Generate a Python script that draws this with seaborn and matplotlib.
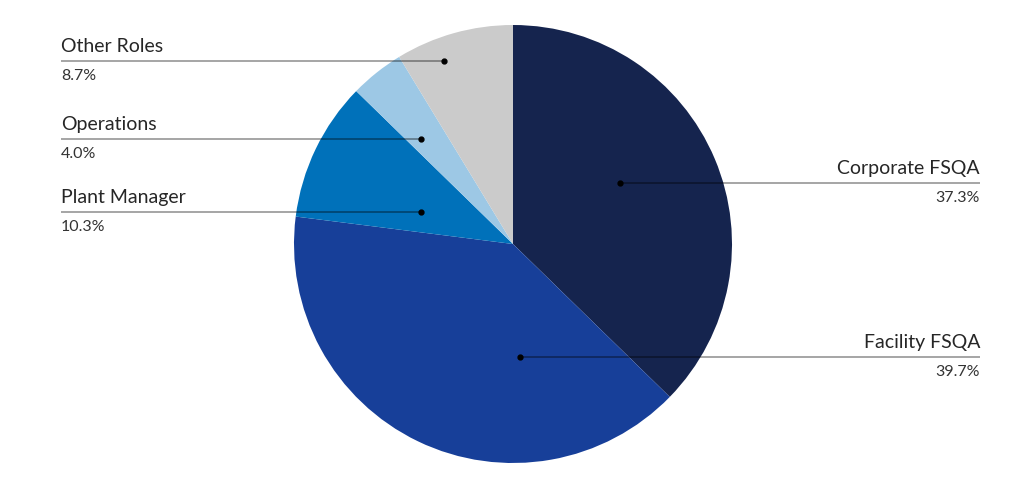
import matplotlib
matplotlib.use("Agg")
import matplotlib.pyplot as plt
import seaborn as sns

# data
roles = ["Corporate FSQA", "Facility FSQA", "Plant Manager", "Operations", "Other Roles"]
shares = [37.3, 39.7, 10.3, 4.0, 8.7]
colors = ["#15244e", "#173f99", "#0071ba", "#9dc8e5", "#cbcbcb"]

# label layout (image pixels): dot x, line y, side
dot_x = [620, 520, 421, 421, 444]
line_y = [183, 357, 212, 139, 61]
side = ["right", "right", "left", "left", "left"]

sns.set_style("white")
plt.rcParams['font.family'] = ['Lato', 'DejaVu Sans']

W, H = 1024, 490
fig = plt.figure(figsize=(W / 100, H / 100), dpi=100)
ax = fig.add_axes([0, 0, 1, 1])

ax.pie(shares, colors=colors, startangle=90, counterclock=False,
       center=(513, H - 244), radius=219, frame=True,
       wedgeprops=dict(linewidth=0))

for name, val, dx, ly, s in zip(roles, shares, dot_x, line_y, side):
    y = H - ly
    if s == "right":
        x_end, ha = 980, "right"
    else:
        x_end, ha = 61, "left"
    ax.plot([dx, x_end], [y, y], color="black", alpha=0.45, lw=1.1,
            solid_capstyle="butt")
    ax.plot(dx, y, "o", color="black", ms=3.5)
    ax.text(x_end, y + 6, name, ha=ha, va="bottom", fontsize=14, color="#262626")
    ax.text(x_end, y - 8, f"{val:.1f}%", ha=ha, va="top", fontsize=11.5, color="#333333")

ax.set_xlim(0, W)
ax.set_ylim(0, H)
ax.set_aspect("equal")
ax.axis("off")

fig.savefig("out.png", dpi=100)
